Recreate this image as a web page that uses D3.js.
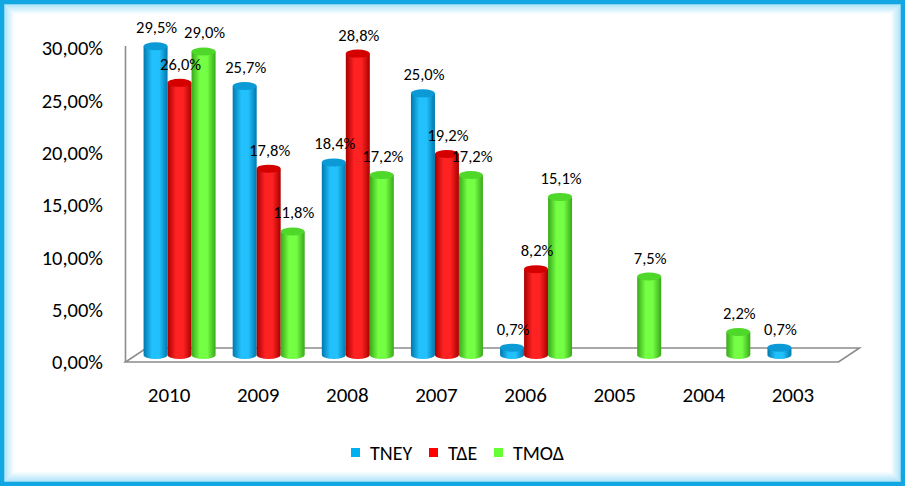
<!DOCTYPE html>
<html>
<head>
<meta charset="utf-8">
<script src="https://cdn.jsdelivr.net/npm/d3@7"></script>
<style>
  body { margin: 0; background: #fff; }
  svg text { font-family: Carlito, Calibri, "Noto Sans", sans-serif; fill: #000; }
</style>
</head>
<body>
<div id="chart"></div>
<script>
!(function(){
    "use strict"

    var width = 905;
    var height = 486;

    // data (null = no bar)
    var years = ["2010", "2009", "2008", "2007", "2006", "2005", "2004", "2003"];
    var seriesNames = ["ΤΝΕΥ", "ΤΔΕ", "ΤΜΟΔ"];
    var tney = [29.5, 25.7, 18.4, 25.0, 0.7, null, null, 0.7];
    var tde  = [26.0, 17.8, 28.8, 19.2, 8.2, null, null, null];
    var tmod = [29.0, 11.8, 17.2, 17.2, 15.1, 7.5, 2.2, null];
    var yTicks = [0, 5, 10, 15, 20, 25, 30];

    var seriesValues = [tney, tde, tmod];
    var colors = [
        { edge: "#0078ad", mid: "#22c0fc", top: "#0c9ad6", key: "#00b0f0" },
        { edge: "#a80000", mid: "#ff2222", top: "#d40000", key: "#ff0000" },
        { edge: "#3aa81a", mid: "#74ff44", top: "#4fd82a", key: "#66ff33" }
    ];

    var locale = d3.formatLocale({ decimal: ",", thousands: ".", grouping: [3], currency: ["", "€"] });
    var fmtTick = locale.format(".2f");
    var fmtVal = locale.format(".1f");

    var svg = d3.select("#chart").append("svg")
        .attr("width", width)
        .attr("height", height);

    // frame: blue border + soft inner glow
    svg.append("rect").attr("width", width).attr("height", height).attr("fill", "#fff");
    for (var i = 0; i < 10; i++) {
        svg.append("rect")
            .attr("x", 4.5 + i).attr("y", 4.5 + i)
            .attr("width", width - 9 - 2 * i).attr("height", height - 9 - 2 * i)
            .attr("fill", "none")
            .attr("stroke", "rgba(0,170,235," + (0.32 * (1 - i / 10)) + ")")
            .attr("stroke-width", 1);
    }
    svg.append("rect")
        .attr("x", 2).attr("y", 2)
        .attr("width", width - 4).attr("height", height - 4)
        .attr("fill", "none")
        .attr("stroke", "#12a6e2")
        .attr("stroke-width", 4.5);

    var x = d3.scaleBand().domain(years).range([124.5, 837.5]);
    var y = d3.scaleLinear().domain([0, 30]).range([362, 48]);

    var depthX = 21, depthY = 14;      // floor depth
    var barW = 24, ry = 4;

    // wall & floor outline
    var axisColor = "#8c8c8c";
    var x0 = x.range()[0] + 1, x1 = x.range()[1] + 1, yf = y(0);
    svg.append("line")
        .attr("x1", x0).attr("x2", x0)
        .attr("y1", y(30) - 2).attr("y2", yf)
        .attr("stroke", axisColor).attr("stroke-width", 1.6);
    svg.append("path")
        .attr("d", "M" + x0 + "," + yf + "L" + x1 + "," + yf +
                   "L" + (x1 + depthX) + "," + (yf - depthY) +
                   "L" + (x0 + depthX) + "," + (yf - depthY) + "Z")
        .attr("fill", "none")
        .attr("stroke", axisColor).attr("stroke-width", 1.6);

    // y tick labels
    svg.append("g").selectAll("text")
        .data(yTicks)
        .enter().append("text")
        .attr("x", 103)
        .attr("y", function(d){ return y(d); })
        .attr("dy", "0.35em")
        .attr("text-anchor", "end")
        .style("font-size", "20.5px")
        .text(function(d){ return fmtTick(d) + "%"; });

    // category labels
    svg.append("g").selectAll("text")
        .data(years)
        .enter().append("text")
        .attr("x", function(d){ return x(d) + x.bandwidth() / 2; })
        .attr("y", 402)
        .attr("text-anchor", "middle")
        .style("font-size", "21px")
        .text(function(d){ return d; });

    // gradients for cylinders
    var defs = svg.append("defs");
    colors.forEach(function(c, k) {
        var g = defs.append("linearGradient").attr("id", "cyl" + k)
            .attr("x1", "0%").attr("x2", "100%").attr("y1", "0%").attr("y2", "0%");
        g.append("stop").attr("offset", "0%").attr("stop-color", c.edge);
        g.append("stop").attr("offset", "35%").attr("stop-color", c.mid);
        g.append("stop").attr("offset", "65%").attr("stop-color", c.mid);
        g.append("stop").attr("offset", "100%").attr("stop-color", c.edge);
    });

    // flatten into bar records
    var bars = [];
    years.forEach(function(yr, j) {
        seriesValues.forEach(function(vals, k) {
            if (vals[j] != null) bars.push({ year: yr, s: k, v: vals[j] });
        });
    });

    function cx(d) {
        return x(d.year) + x.bandwidth() / 2 + depthX / 2 + (d.s - 1) * barW;
    }
    function yTop(d) { return y(d.v) - depthY / 2; }
    var yBase = y(0) - depthY / 2;

    var bar = svg.append("g").selectAll("g")
        .data(bars)
        .enter().append("g");

    bar.append("path")
        .attr("d", function(d) {
            var l = cx(d) - barW / 2, r = cx(d) + barW / 2, t = yTop(d);
            return "M" + l + "," + t + "L" + l + "," + yBase +
                   "A" + (barW / 2) + "," + ry + " 0 0 0 " + r + "," + yBase +
                   "L" + r + "," + t + "Z";
        })
        .attr("fill", function(d){ return "url(#cyl" + d.s + ")"; });

    bar.append("ellipse")
        .attr("cx", cx)
        .attr("cy", yTop)
        .attr("rx", barW / 2)
        .attr("ry", ry)
        .attr("fill", function(d){ return colors[d.s].top; });

    // value labels
    svg.append("g").selectAll("text")
        .data(bars)
        .enter().append("text")
        .attr("x", function(d){ return cx(d) + 1; })
        .attr("y", function(d){ return yTop(d) - 13; })
        .attr("text-anchor", "middle")
        .style("font-size", "16.5px")
        .text(function(d){ return fmtVal(d.v) + "%"; });

    // legend
    var legendX = [351, 429, 494];
    var legend = svg.append("g").selectAll("g")
        .data(seriesNames)
        .enter().append("g")
        .attr("transform", function(d, k){ return "translate(" + legendX[k] + ",448)"; });
    legend.append("rect")
        .attr("width", 9).attr("height", 9)
        .attr("fill", function(d, k){ return colors[k].key; });
    legend.append("text")
        .attr("x", 19).attr("y", 11.5)
        .style("font-size", "20px")
        .text(function(d){ return d; });

}());
</script>
</body>
</html>
